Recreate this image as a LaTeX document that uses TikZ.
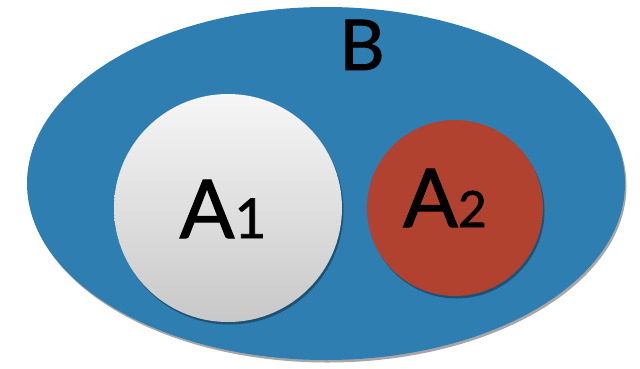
\documentclass[tikz,border=0pt]{standalone}
\usepackage{fontspec}
\setmainfont{Lato}[FakeBold=1.3]
\usetikzlibrary{shapes.geometric,shadows}
\definecolor{setblue}{RGB}{46,126,178}
\definecolor{setred}{RGB}{178,66,48}
\definecolor{topwhite}{RGB}{246,246,246}
\definecolor{botgray}{RGB}{200,200,200}
\tikzset{
  setshadow/.style={drop shadow={shadow xshift=1.5pt, shadow yshift=-2.5pt, opacity=0.35, fill=black}},
  bigset/.style={ellipse, fill=setblue, inner sep=0pt, setshadow},
  subset/.style={circle, inner sep=0pt, setshadow},
  setlabel/.style={inner sep=0pt, anchor=base, text=black}
}
\begin{document}
\begin{tikzpicture}[x=1pt,y=-1pt]
\useasboundingbox (0,0) rectangle (640,368);
\node[bigset, minimum width=598pt, minimum height=353pt] (B) at (326,183.5) {};
\node[subset, minimum size=228pt, top color=topwhite, bottom color=botgray] (A1) at (228,208) {};
\node[subset, minimum size=176pt, fill=setred] (A2) at (455,208) {};
\node[setlabel, font=\fontsize{70}{70}\selectfont] (Blab) at (362,70) {B};
\node[setlabel, font=\fontsize{81}{81}\selectfont] (A1lab) at (223,238) {A\fontsize{55}{55}\selectfont 1};
\node[setlabel, font=\fontsize{81}{81}\selectfont] (A2lab) at (445,227) {A\fontsize{50}{50}\selectfont 2};
\end{tikzpicture}
\end{document}
